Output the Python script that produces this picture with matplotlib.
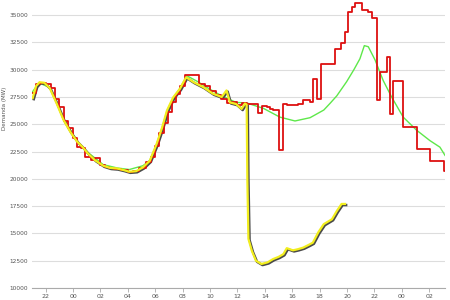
import matplotlib
matplotlib.use("Agg")
import matplotlib.pyplot as plt
import matplotlib.transforms as mtransforms

# hours since 21:00 of the first day
tick_hours = [1, 3, 5, 7, 9, 11, 13, 15, 17, 19, 21, 23, 25, 27, 29]
tick_labels = ['22', '00', '02', '04', '06', '08', '10', '12', '14', '16',
               '18', '20', '22', '00', '02']
y_ticks = [10000, 12500, 15000, 17500, 20000, 22500, 25000, 27500, 30000,
           32500, 35000]

# demanda real (yellow)
real_t = [0.05, 0.3, 0.55, 0.9, 1.3, 1.8, 2.3, 2.8, 3.3, 3.7, 4.1, 4.6, 5.2,
          5.7, 6.2, 6.7, 7.1, 7.6, 8.1, 8.6, 9.1, 9.5, 9.85, 10.3, 10.8, 11.25,
          11.8, 12.5, 13.2, 13.85, 14.2, 14.45, 14.9, 15.3, 15.55, 15.67,
          15.72, 15.8, 16.05, 16.35, 16.75, 17.2, 17.6, 18.0, 18.35, 18.6,
          19.05, 19.4, 19.8, 20.2, 20.5, 20.9, 21.3, 21.9, 22.25, 22.6, 22.85]
real_v = [27400, 28500, 28850, 28800, 28300, 26900, 25400, 24300, 23400,
          22900, 22300, 21700, 21200, 21000, 20950, 20800, 20650, 20700, 21050,
          21650, 23200, 24700, 26250, 27450, 28250, 29300, 28850, 28400, 27800,
          27500, 28100, 27000, 26850, 26400, 26900, 26800, 20000, 14500, 13400,
          12500, 12200, 12350, 12650, 12850, 13100, 13650, 13450, 13550, 13700,
          13950, 14150, 15100, 15850, 16300, 17050, 17700, 17700]

# demanda prevista (green)
prev_t = [0.0, 0.5, 1.3, 1.8, 2.3, 3.3, 4.1, 5.2, 6.2, 7.1, 8.1, 8.6, 9.1,
          9.5, 9.85, 10.3, 10.8, 11.3, 12.1, 13.0, 13.85, 14.9, 15.67, 16.9,
          18.1, 19.2, 20.3, 21.3, 21.75, 22.25, 22.97, 23.5, 23.94, 24.26,
          24.55, 25.04, 25.64, 26.25, 27.1, 28.08, 29.05, 29.78, 30.15]
prev_v = [27900, 28800, 28350, 27000, 25500, 23450, 22400, 21300, 21000,
          20850, 21200, 21700, 23200, 24700, 26200, 27400, 28300, 29450, 28900,
          28200, 27600, 27000, 26950, 26450, 25650, 25300, 25600, 26300, 26900,
          27600, 28900, 30000, 31000, 32200, 32100, 30900, 29000, 27500, 25650,
          24450, 23500, 22900, 22150]

# demanda programada (red, steps)
prog_t = [0.0, 0.3, 0.6, 1.0, 1.4, 1.7, 2.0, 2.3, 2.6, 3.0, 3.3, 3.6, 3.9,
          4.3, 4.6, 5.0, 5.3, 5.6, 6.0, 6.5, 7.0, 7.4, 7.8, 8.3, 8.7, 9.0, 9.3,
          9.6, 9.9, 10.2, 10.5, 10.8, 11.2, 11.7, 12.2, 12.6, 13.0, 13.4, 13.8,
          14.2, 14.6, 15.0, 15.35, 15.67, 16.52, 16.81, 17.15, 17.37, 17.59,
          18.05, 18.30, 18.59, 19.05, 19.42, 19.80, 20.29, 20.53, 20.78, 21.07,
          21.39, 22.12, 22.53, 22.85, 23.09, 23.34, 23.58, 24.07, 24.55, 24.80,
          25.16, 25.40, 25.89, 26.13, 26.37, 27.10, 28.12, 29.05, 30.09, 30.15]
prog_v = [27900, 28700, 28800, 28700, 28300, 27300, 26600, 25300, 24700,
          23700, 22900, 22800, 22000, 21700, 21900, 21300, 21100, 21000, 20900,
          20800, 20600, 20700, 21000, 21500, 22000, 23000, 24200, 25100, 26100,
          27000, 27800, 28500, 29500, 29500, 28700, 28500, 28000, 27700, 27300,
          26900, 27000, 26800, 26900, 26880, 26060, 26640, 26570, 26430, 26270,
          22600, 26880, 26730, 26790, 26880, 27190, 27030, 29180, 27340, 30500,
          30560, 31880, 32400, 33410, 35250, 35700, 36150, 35460, 35300, 34700,
          27190, 29790, 31170, 25970, 28960, 24740, 22750, 21670, 20760, 20760]


def plot_demand():
    fig = plt.figure(figsize=(4.5, 3), dpi=100)
    ax = fig.add_axes([32 / 450, 12 / 300, 413 / 450, 288 / 300])

    ax.plot(prev_t, prev_v, color='#5ee84a', linewidth=1.0, zorder=3)

    # yellow line with a dark shadow under it
    shadow = mtransforms.offset_copy(ax.transData, fig=fig, x=0.8, y=-0.8,
                                     units='points')
    ax.plot(real_t, real_v, color='#4a4a4a', linewidth=1.8, zorder=4,
            transform=shadow)
    ax.step(prog_t, prog_v, where='post', color='#dd1010', linewidth=1.3,
            zorder=5)
    ax.plot(real_t, real_v, color='#f2ee1e', linewidth=1.6, zorder=6)

    ax.set_xlim(0, 30.15)
    ax.set_ylim(10000, 36380)
    ax.set_xticks(tick_hours)
    ax.set_xticklabels(tick_labels)
    ax.set_yticks(y_ticks)
    ax.set_yticklabels([str(v) for v in y_ticks])

    ax.grid(axis='y', color='#dddddd', linewidth=0.8)
    ax.set_axisbelow(True)
    for side in ['top', 'right', 'left']:
        ax.spines[side].set_visible(False)
    ax.spines['bottom'].set_color('#aaaaaa')
    ax.spines['bottom'].set_linewidth(0.8)
    ax.tick_params(axis='x', length=3, width=0.6, color='#aaaaaa',
                   labelsize=4.5, labelcolor='#555555', pad=1)
    ax.tick_params(axis='y', length=0, labelsize=4.2, labelcolor='#555555',
                   pad=3)

    # y label placed by hand, close to the left edge like the original
    fig.text(5 / 450, 1 - 108 / 300, 'Demanda (MW)', fontsize=4,
             color='#555555', rotation=90, ha='center', va='center')

    return fig


fig = plot_demand()
fig.savefig('out.png', dpi=100)
